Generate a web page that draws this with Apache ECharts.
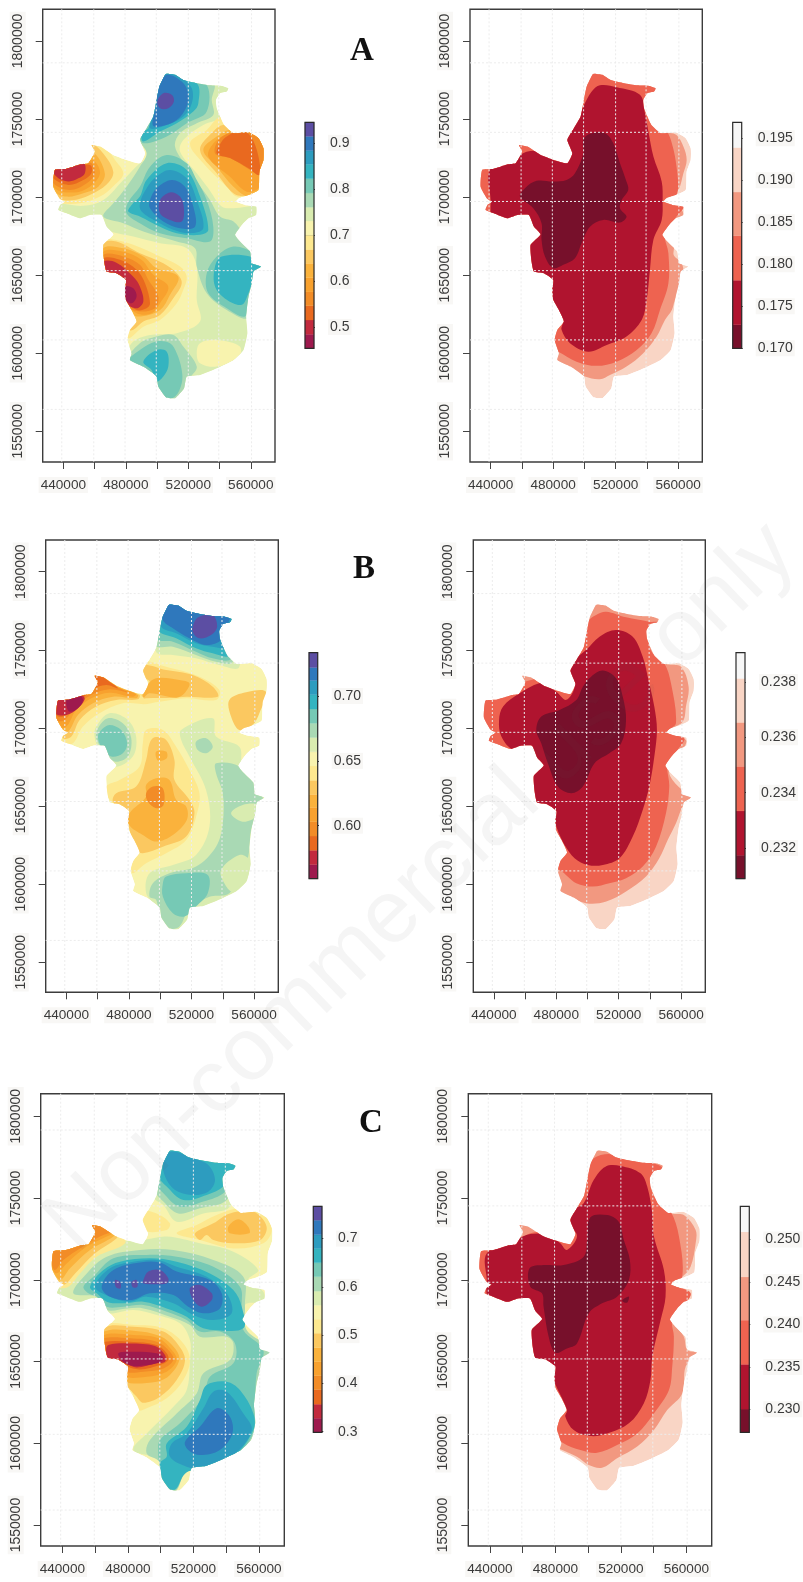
<!DOCTYPE html>
<html><head><meta charset="utf-8">
<style>html,body{margin:0;padding:0;background:#fff}#c{width:803px;height:1582px}</style>
<script src="https://cdn.jsdelivr.net/npm/echarts@6/dist/echarts.min.js"></script>
</head><body><div id="c"></div>
<script>
// ---- tick labels and reference lines (metres)
const xTicks=[440000,460000,480000,500000,520000,540000,560000];
const xLabels=[440000,480000,520000,560000];
const yTicks=[1550000,1600000,1650000,1700000,1750000,1800000];
const gridXkm=[439,459.5,479.5,499.5,520,539.5,560.5];
const gridYkmAB=[1786,1741.5,1697.2,1652.9,1608.5,1564];
const gridYkmC=[1791.6,1745.2,1698.5,1651.6,1605.5,1559.2];

// ---- colour scales: breaks & ticks
const spectral=['#9e1a4e','#c22a3e','#e9691f','#f28c27','#f8a12e','#fab23c','#fbc860','#fde88f','#f8f3ae','#d9ecb0','#a9d9b4','#76c9b5','#34b4c0','#2d9cbf','#2f78bc','#5c4ea3'];
const reds=['#77102b','#b0142f','#ee6350','#f29880','#f9d5c5','#f7f7f7'];
const breaksAL=[.4535,.484,.515,.546,.576,.607,.638,.668,.699,.730,.760,.791,.822,.853,.883,.914,.9445];
const breaksBL=[.5591,.570,.581,.592,.603,.614,.624,.635,.646,.657,.668,.679,.690,.701,.712,.722,.7334];
const breaksCL=[.2988,.328,.357,.387,.416,.445,.474,.504,.533,.562,.591,.621,.650,.679,.708,.738,.7668];
const breaksAR=[.170,.1728,.1781,.1834,.1886,.1939,.1969];
const breaksBR=[.23089,.23174,.23334,.23495,.23654,.23813,.23906];
const breaksCR=[.2273,.230,.2353,.2405,.2456,.2509,.2539];
const barTicksAL=[.5,.6,.7,.8,.9], barTicksBL=[.6,.65,.7], barTicksCL=[.3,.4,.5,.6,.7];
const barTicksAR=[.17,.175,.18,.185,.19,.195], barTicksBR=[.232,.234,.236,.238], barTicksCR=[.23,.235,.24,.245,.25];

// ---- region outline, km (x,y,x,y,...)
const outline=[506,1779,511.5,1778.3,516.8,1775,525.4,1773,533.9,1771.6,541.4,1771.2,545.6,1769.7,544.6,1767.6,540.3,1766.5,537.7,1762.2,538.2,1756.9,540.3,1751.6,542.9,1746.2,548.9,1740.9,558.5,1741.5,564.9,1737.7,568.1,1731.3,568.1,1723.8,565.5,1716.3,564.9,1704.6,558.5,1701.4,553.1,1699.7,550.6,1697.1,556.3,1695,563.4,1693.9,563.4,1688.6,558.5,1686.5,554.2,1682.2,549.9,1675.8,553.1,1671.5,559.5,1665.1,560.6,1657.6,566.6,1655.5,561.7,1652.3,560.6,1644.8,558.5,1636.3,557,1623.5,557.8,1612.8,555.3,1602.1,548.9,1595.7,538.2,1590.4,527.5,1586.1,519,1585,517.3,1577.6,511.5,1571.2,505.7,1571.8,500.8,1578.6,499.7,1585,491.2,1591.4,482.7,1595.7,483.7,1600,481,1608.5,482.7,1614.9,486.9,1620.3,483.7,1627.7,480.1,1634.2,479.5,1640.6,480.1,1646.9,474.1,1651.2,467.7,1652.3,466.2,1658.7,465.6,1669.4,472,1676,467.7,1681.1,464.5,1688.6,457,1688.6,450.6,1686.5,442.1,1689.7,436.8,1691.8,438,1695,441,1697,437.8,1699,433.6,1706.7,434.6,1717.4,441,1718,446.4,1719.5,451,1721,456,1721.7,460.2,1729.2,458.1,1733.4,463.5,1732.4,472,1727,480.5,1723.8,489.1,1721.7,492.3,1728.1,489.1,1736.6,493.3,1744.1,497.6,1751.6,499.7,1762.2,501.5,1770.8,505.1,1778.3];

// ---- filled contour bands: [band index, km outline]
const contoursAL=[
[9,[499.7,1785.7,553,1775,539.2,1762.2,541.4,1751.6,529.6,1746.2,516.8,1736.6,514.7,1729.2,525.4,1715.3,532.8,1705.7,541.4,1694,548.9,1692.9,568,1694,566,1685.4,553.1,1672.6,570.2,1655.5,566,1634.2,559.5,1612.8,561.7,1589.3,527.5,1580.8,515.8,1568,499.7,1570,480.5,1593.6,483.7,1606.4,495.5,1611.7,512.6,1612.8,527.5,1620.3,525.4,1634.2,525.4,1655.5,519,1667.2,501.9,1670.4,484.8,1674.7,467.7,1679,463.5,1685.4,461.3,1684.3,435.7,1685.4,434.6,1695,452.8,1694.4,465.6,1698.2,478.4,1711,489,1721.7,495.5,1726,489,1736.6,489,1745.2]],
[8,[527.5,1606.4,538.2,1608.5,553,1604.3,552,1596.8,538.2,1591.4,527.5,1593.6,525.4,1600]],
[10,[497.6,1783.6,536,1772.9,535,1762.2,536,1752.6,525.4,1747.3,514.7,1740.9,511.5,1732.4,519,1719.5,525.4,1710,533.9,1698.2,540.3,1687.5,548.9,1684.3,555.3,1676.8,568,1662,563.8,1638.4,558.5,1622.4,544.6,1627.7,531.8,1638.4,525.4,1655.5,524.3,1667.2,512.6,1671.5,491.2,1678,478.4,1683.3,465.6,1687.5,472,1696,480.5,1706.7,489,1719.5,493.3,1728,489,1736.6,491.2,1745.2]],
[11,[501.9,1780.4,530.7,1772.9,531.8,1754.8,519,1747.3,506.2,1738.8,491.2,1734.5,489,1740.9,493.3,1744,496.5,1753.7,499.7,1772.9]],
[11,[506.2,1727,519,1721.7,525.4,1711,531.8,1698.2,536,1681,533.9,1671.5,519,1673.6,501.9,1676.8,489,1683.3,480.5,1689.7,481.6,1697,489,1706.7,495.5,1719.5]],
[11,[538.2,1661.9,548.9,1668.3,561.7,1664,565.9,1655.5,561.7,1642.7,558.5,1634.2,556.3,1623.5,544.6,1628.8,532.8,1638.4,531.8,1651.2]],
[12,[541.4,1661.9,559.5,1661.9,568,1655.5,561.7,1647,558.5,1638.4,554.2,1631,544.6,1634.2,537.1,1642.7,537.1,1655.5]],
[12,[504,1780.4,525.4,1772.9,526.4,1760,523.2,1754.8,512.6,1747.3,501.9,1742,491.2,1735.6,490.1,1740.9,494.4,1744.1,497.6,1753.7,499.7,1772.9]],
[12,[506.2,1721.7,519,1717.4,527.5,1700.3,532.8,1679,527.5,1675.8,512.6,1676.8,501.9,1681,489,1687.5,481.6,1690.7,483.7,1695,489,1700.3,493.3,1711]],
[13,[504,1780.4,514.7,1777.2,522.2,1769.7,522.2,1760,516.8,1751.6,506.2,1746.2,495.5,1744.1,497.6,1753.7,499.7,1772.9]],
[13,[508.3,1717.4,519,1712,525.4,1698.2,529.6,1680,521.1,1676.8,510.4,1679,499.7,1684.3,490.1,1690.7,489,1696,493.3,1705.7,499.7,1713.2]],
[14,[506.2,1778.3,515.8,1774,520,1766.5,519,1758,512.6,1749.4,501.9,1745.2,497.2,1746.2,499.3,1758,500.8,1769.7]],
[14,[509.4,1711,517.9,1706.7,523.2,1693.9,524.3,1681,514.7,1680,504,1684.3,495.5,1692.9,495.5,1698.2,499.7,1705.7]],
[15,[504,1766.5,509.4,1765.5,510.8,1761.2,507.2,1756.9,501.9,1756.9,500.2,1761.2]],
[15,[508.3,1703,514.7,1700.3,517.2,1692.9,515.8,1684.3,508.3,1685.4,501.9,1689.7,501.9,1698.2]],
[10,[510.4,1611.7,516.8,1604.3,525.4,1591.4,521.1,1584,517.9,1574.4,510.4,1569,504,1570,498.7,1578.6,498.7,1585,491.2,1590.4,480.5,1594.6,489,1606.4,499.7,1610.7]],
[11,[508.3,1606.4,512.6,1600,515.8,1589.3,515.8,1580.8,511.5,1572.2,505,1571,499.7,1580.8,497.6,1587.2,481.6,1594.6,489,1602.1,499.7,1607.5]],
[12,[499.7,1602.1,506.2,1601,507.2,1591.4,504,1585,499.7,1581.8,496.5,1589.3,491.2,1594.6]],
// north-west
[7,[457,1737,468,1730,473,1724,478.4,1715,472,1707,463.5,1700.3,450.6,1696,437.8,1696,431.4,1698,429,1719.5]],
[6,[458,1734,465.6,1728,472,1716,467.7,1708,457,1701.4,445.3,1698,434.6,1700,431.4,1715,446.4,1721.7,456,1726]],
[5,[460,1728,466.6,1715,462.4,1706.7,452.8,1702.5,442,1700.3,433.6,1704.6,431.4,1717.4,455,1723.8]],
[4,[459,1723.8,463.5,1715.3,457,1706.7,446.4,1702.9,434.6,1705.7,431.4,1717.4,452.8,1721.7]],
[3,[458,1721.7,460.2,1715.3,455,1708.9,444.2,1704.6,433.6,1708.9,431.4,1717.4,452.8,1720.6]],
[2,[457,1720.6,458,1715.3,452.8,1711,443.2,1707.8,433.6,1712,431.4,1718.5]],
[1,[452.8,1722,453.8,1715.3,449.6,1712,443.2,1710,435.7,1713,431.4,1722]],
// south-west
[7,[464.5,1672.6,473,1672.6,484.8,1669.4,501.9,1662,514.7,1655.5,519,1649,516.8,1640.6,512.6,1632,501.9,1621.3,491.2,1617,481.6,1609.6,479.5,1617,478.4,1644.8,463.5,1649]],
[6,[465.6,1670.4,474,1671.5,489,1664,504,1657.6,512.6,1651.2,515.8,1644.8,510.4,1635.2,501.9,1624.5,491.2,1620.3,484.8,1615,481.6,1615,483.7,1620.3,478.4,1634.2,477.3,1647,463.5,1651.2]],
[5,[465.6,1667.2,478.4,1667.2,491.2,1662,499.7,1654.4,513.6,1649,508.3,1637.4,501.9,1627.7,488,1623.5,481.6,1627.7,476.3,1647,463.5,1651.2]],
[4,[465.6,1665,478.4,1665,490,1659.8,497.6,1650.2,507.2,1642.7,501.9,1632,496.5,1625.6,486.9,1625.6,478.4,1634.2,474,1649,463.5,1652.3]],
[3,[465.6,1663,478.4,1662,489,1656.6,494.4,1647,500.8,1636.3,498.7,1628.8,489,1626.7,481.6,1629.9,476.3,1649,463.5,1652.3]],
[2,[465.6,1660.8,476.3,1659.8,486.9,1653.4,492.3,1644.8,495.5,1632,493.3,1628.8,486.9,1627.7,479.5,1634.2,474,1649,463.5,1652.3]],
[1,[465.6,1658.7,474,1658,484.8,1649,489,1642.7,491.2,1633,486.9,1628.8,479.5,1633,476.3,1647,463.5,1652.3]],
[0,[479.5,1642.7,484.8,1641.6,486.9,1636.3,483.7,1632,478.8,1635.2]],
// east
[7,[541.4,1751.6,570.2,1745.2,570.2,1698.2,551,1700.3,544.6,1706.7,529.6,1721.7,521.1,1734.5,531.8,1743]],
[6,[542.4,1746.2,570.2,1743,570.2,1700.3,557.4,1700.3,548.9,1702.5,538.2,1715.3,527.5,1730.2,536,1742]],
[5,[546.7,1743,570.2,1740.9,568,1702.5,558.5,1700.3,548.9,1706.7,538.2,1719.5,529.6,1730.2,538.2,1738.8]],
[4,[548.9,1740.9,570.2,1738.8,567,1715.3,566,1706.7,557.4,1703.5,546.7,1713,532.8,1726,538.2,1736.6]],
[3,[552,1742,570.2,1738.8,568,1719.5,565.5,1714.2,559.5,1717.4,546.7,1725,537.1,1728,540.3,1737.7]],
[2,[544.6,1738.8,553,1742.6,560,1738.8,564.9,1726,565.5,1714.2,558.5,1718.5,546.7,1725,538.2,1728,541.4,1735.6]]
];
const contoursAR=[
[3,[480,1794,548.4,1794,551.6,1743,559,1739.8,563.4,1732.4,565.5,1723.8,563.4,1715.3,560.2,1704.6,553.8,1698.2,563.4,1689.7,557,1664,562.3,1657.6,563.4,1651.2,561.2,1640.6,558,1634.2,556,1627.7,551.6,1621.3,546.3,1610.7,537.7,1600,527,1591.4,516.4,1586,510,1583.3,500.4,1585,488.6,1591.4,478,1594.6,469.4,1612.8,459,1655.5,426.7,1676.8,426.7,1719.5]],
[2,[480,1794,544.2,1794,548.4,1743,552.7,1742,556,1734.5,559,1719.5,559.5,1702.5,553.8,1698.2,563.4,1693.9,559,1687.5,551.6,1676.8,553.8,1664,553.8,1644.8,548.4,1627.7,543,1612.8,533.5,1602,520.7,1594.6,507.9,1591.9,495,1594.6,483.3,1601,475.8,1604.3,469.4,1634.2,458.8,1655.5,426.7,1676.8,426.7,1719.5]],
[1,[510,1771.6,520.7,1770.4,535.6,1765.5,538.8,1753.7,541,1742,544.2,1726,549.5,1710,550.1,1697.1,549.5,1685.4,544.2,1672.6,542,1653.4,539.9,1634.2,536.7,1621.3,527,1610.7,514.3,1605.3,502.5,1601,490.8,1606.4,485.4,1615,486,1620.3,475.8,1634.2,475.8,1645.9,465.2,1651.2,462,1670.4,468.4,1676.8,460.9,1681,452.3,1683.3,440.6,1685.4,440,1689.7,440,1698.2,439.5,1717.4,454.5,1723.8,463,1729,472.6,1729,480.1,1723.8,486.5,1723.8,488.6,1736.6,490.8,1744.1,496,1751.6,499.3,1758,504.7,1767.6]],
[0,[503.6,1740.5,513.2,1740.9,518.5,1734.5,522.8,1721.7,526.6,1711,528.1,1704.6,523.9,1698.2,522.8,1692.9,527,1687.5,522.8,1683.7,512.1,1685.4,503.6,1681,498.2,1670.4,494,1660.8,486.5,1656.6,480.1,1654.4,474.8,1661.9,472.6,1672.6,472.6,1683.3,467.3,1692.9,458.8,1700.3,462,1705.7,469.4,1710.4,480.1,1710,488.6,1711,494,1715.3,499.3,1728,499.3,1736.6]]
];
const contoursBL=[
[9,[491,1784,550.6,1784,550.6,1739.2,537.8,1740.3,522.9,1744.6,508.1,1746.7,497.4,1748.8]],
[10,[493.2,1784,550.6,1784,546.4,1742.4,535.7,1742.4,522.9,1746.7,508.1,1752,496.4,1753.1]],
[11,[493.2,1784,550.6,1784,545.3,1744.6,533.6,1744.6,522.9,1748.8,508.1,1755.2,497.4,1757.4]],
[12,[493.2,1784,550.6,1784,544.2,1746.7,533.6,1747.8,522.9,1751,510.2,1757.4,498.5,1762.7]],
[13,[493.2,1784,550.6,1784,543.2,1752,533.6,1752,522.9,1754.2,510.2,1760.6,500.6,1764.8]],
[14,[499.5,1784,550.6,1784,544.2,1769.1,538.9,1756.3,529.3,1753.1,518.7,1757.4,508.1,1763.8,501.7,1769.1]],
[15,[525,1771.2,533.6,1772.3,536.4,1764.8,532.5,1759.5,525,1757.4,520.8,1761.6,521.9,1768]],
[7,[488.9,1742.4,503.8,1739.2,525.1,1732.8,537.8,1724.3,535.7,1717.9,516.6,1719,499.5,1716.8,486.8,1715.8,486.8,1724.3,492.1,1729.6,487.8,1732.8]],
[6,[488.9,1740.3,503.8,1737.1,520.8,1733.9,533.6,1726.4,536.8,1720,516.6,1720,508.1,1719.4,491,1719,486.8,1718,493.2,1729.6,488.9,1732.8]],
[5,[491,1726.4,497.4,1731.8,512.3,1730.7,518.7,1728.6,515.5,1722.2,510.2,1719.4,493.2,1722.2,488.9,1719]],
[6,[544.2,1717.9,554.9,1722.8,567.6,1723.2,563.4,1709.4,559.1,1702,550.6,1698.7,545.3,1707.3]],
[7,[458,1737.1,474,1726.4,488.9,1720,488.9,1715.8,476.1,1715.8,461.2,1709.4,450.6,1700.9,444.2,1690.2,436.8,1690.2,432.5,1707.3,431.4,1720]],
[6,[458,1735,474,1726.4,486.8,1721.1,485.7,1718.3,471.9,1717.9,459.1,1713.7,448.5,1705.1,443.2,1694.5,437.8,1693.4,432.5,1705.1,431.4,1720]],
[5,[458,1734.6,472.9,1726.4,485.7,1721.1,484.6,1719,469.8,1720,457,1715.8,447.4,1708.3,441,1697.6,435.7,1698.7,431.4,1709.4,431.4,1720]],
[4,[458,1734.3,471.9,1726.4,484.6,1721.8,482.5,1720,467.6,1722.6,455.9,1719,446.3,1711.5,440,1700.9,434.6,1700.9,431.4,1713.7,431.4,1720]],
[3,[458,1734.3,470.8,1726.9,479.3,1722.8,467.6,1724.7,455.9,1721.1,445.9,1713.7,438.9,1705.1,433.6,1705.1,431.4,1715.8]],
[2,[458,1734.3,470.8,1727.5,472.9,1725.4,465.5,1727.5,455.9,1724.3,445.3,1712.6,437.8,1707.3,433.6,1708.3,431.4,1717.9,452.7,1722.2]],
[1,[434.6,1719,446.3,1722.2,451.7,1719,447.4,1712.6,440,1708.3,432.5,1709.4,431.4,1715.8]],
[0,[441,1720,447.4,1722.2,450.6,1717.9,447.4,1712.6,442.1,1710.4,440,1714.7]],
[9,[467.6,1709.4,479.3,1705.1,484.6,1694.5,482.5,1681.7,470.8,1675.3,461.2,1686,458,1694.5,459.1,1700.9]],
[10,[466.6,1706.2,476.1,1703,481.5,1693.4,479.3,1681.7,470.8,1678.5,463.4,1686,459.1,1693.4,460.2,1699.8]],
[11,[467.6,1701.9,475.1,1698.7,478.9,1690.2,476.1,1683.8,468.7,1681.7,462.3,1688,460.2,1694.5,462.3,1698.7]],
[7,[491,1698.7,501.7,1698.7,510.2,1688,518.7,1673.1,525.1,1658.2,523,1643.3,516.6,1628.3,503.8,1619.8,491,1613.4,482.5,1607,481.5,1611.3,484.6,1619.8,479.3,1639,478.3,1645.4,467.6,1654,465.5,1662.5,474,1666.7,486.8,1675.3,488.9,1690.2]],
[6,[496.4,1694,503.8,1692.3,509.1,1679.5,509.1,1666.7,518.7,1654,521.9,1645.4,516.6,1630.5,501.7,1624,488.9,1619.8,484.6,1622,480.4,1634.7,478.3,1643.3,469.8,1652.9,471.9,1658.2,484.6,1662.5,491,1679.5,493.2,1690.2]],
[5,[497.4,1684.9,503.8,1684.9,504.2,1680.6,498.5,1679.1]],
[5,[497.4,1667.8,505.9,1666.7,510.2,1654,516.6,1649.7,517,1641.1,508.1,1631.5,497.4,1627.3,488.9,1631.5,480,1638,480.4,1645.4,491,1656,491,1663.5]],
[3,[495.3,1662.5,501.7,1661.4,502.1,1650.7,497.4,1648.6,492.1,1652.9,491,1658.2]],
[9,[513.4,1698.7,533.6,1706.2,535.7,1694.5,550.6,1688,552.7,1675.3,567.6,1658.2,561.3,1634.7,559.1,1613.4,550.6,1592,520.8,1579.3,510.2,1570.7,501.7,1572.9,497.4,1585.7,491,1594.2,493.2,1607,508.1,1612.3,522.9,1618.7,531.5,1636.9,529.3,1660.3,518.7,1681.7,513.4,1692.3]],
[10,[535.7,1677.4,550.6,1675.3,565.5,1656,558.1,1634.7,557,1622,554.9,1613.4,544.2,1594.2,531.5,1592,518.7,1584.6,512.3,1572.9,505.9,1571.8,499.5,1579.3,497.4,1590,493.2,1592,495.3,1600.6,505.9,1607,522.9,1611.3,535.7,1624,540,1639,540,1658.2,535.7,1671]],
[9,[545.3,1645.4,552.7,1650.7,562.3,1650.7,561.3,1643.3,552.7,1640]],
[9,[538.9,1609.1,550.6,1618.7,557,1615.5,555.9,1604.9,546.4,1595.3,541,1600.6]],
[11,[503.8,1604.9,516.6,1607,530.4,1605.9,530.4,1594.2,522.9,1585.7,515.5,1579.3,508.1,1581.4,501.7,1592,501.7,1600.6]],
[10,[522.9,1691.2,529.3,1693.4,533.6,1688,529.3,1683.8,524,1685.9]]
];
const contoursBR=[
[3,[494.9,1788.3,548.2,1788.3,549.2,1742.4,559.9,1739.2,564.8,1726.4,563.1,1713.7,561,1704,551.4,1697.6,563.1,1692.3,561,1686,552.4,1673.1,554.5,1666.7,563.1,1658.2,566.3,1656,561,1649.7,556.7,1639,551.4,1628.3,546,1616.6,537.5,1604.9,524.7,1595.3,512,1588.9,499.2,1587.8,484.2,1594.2,477.8,1597.4,467.2,1634.7,456.5,1656,424.6,1677.4,424.6,1720]],
[2,[500.2,1768,505.5,1772.3,512,1774.4,524.7,1770.8,539.6,1768,546,1767,539.6,1754.2,541.8,1747.8,549.2,1741.4,553.5,1728.6,556.7,1703,551.4,1697.6,562,1693.4,557.8,1686,551.4,1677.4,552.4,1662.5,550.3,1645.4,543.9,1624,535.4,1611.3,524.7,1603.8,514,1600.6,503.4,1598.5,492.8,1600.6,482.1,1609.1,473.6,1611.3,467.2,1634.7,456.5,1656,431,1686,431,1720,456.5,1728.6,467.2,1731.8,473.6,1735,492.8,1745.6,494.9,1754.2]],
[1,[499.2,1750,507.7,1758.4,518.3,1762.7,529,1758.4,535.4,1745.6,538.6,1732.8,542.8,1713.7,544.5,1698.7,542.8,1681.6,539.6,1662.5,535.4,1647.5,529,1630.5,520.5,1616.6,509.8,1612.3,500.2,1612.3,491.7,1616.6,485.3,1625.1,482.1,1631.5,476.8,1643.3,466.1,1650.7,464,1670,468.2,1677.4,460.8,1688,452.3,1686,444.8,1694.5,443.3,1705,445.9,1713.7,456.5,1722.2,471.4,1729,480,1723.2,486.4,1718,491.7,1726.4,488.5,1735,490.6,1742.4]],
[0,[502.3,1732.8,509.8,1736.7,518.3,1731.8,522.6,1720,524.7,1705,521.5,1690,514,1683.8,504.5,1677.4,497,1662.5,489.6,1658.2,481,1662.5,474.6,1677.4,470.4,1690,467.2,1698.7,470.4,1707.3,482.1,1711.5,492.8,1717.9,497,1726.4]]
];
const contoursCL=[
[9,[499.6,1781.4,550.5,1771.2,542.3,1744.7,526.1,1740.6,509.8,1735.5,501.7,1745.7,495.6,1750.8]],
[10,[499.6,1781.4,550.5,1771.2,540.3,1748.8,524,1743.7,510.8,1740.6,501.7,1747.8,496.6,1754.9]],
[11,[501.7,1781.4,550.5,1771.2,539.3,1753.9,526.1,1747.8,511.8,1744.7,501.7,1752.9,497.6,1759]],
[12,[501.7,1781.4,548.4,1771.2,538.3,1757,528.1,1751.9,513.9,1748.8,503.7,1757,498.6,1764.1]],
[13,[506.8,1778.4,520,1774.3,529.1,1770.2,533.2,1761,529.1,1753.9,519,1751.9,508.8,1754.9,502.7,1763.1,501.7,1773.3]],
[9,[436.6,1694.8,442.7,1695.8,450.8,1707,463,1718.2,477.3,1723.3,489.5,1724.3,503.7,1726.4,524,1722.3,544.4,1717.2,559.6,1706,553.5,1699.9,562.7,1692.7,562.7,1686.6,551.5,1684.6,551.5,1669.3,564.7,1659,560.7,1642.8,558.6,1618.3,557.6,1606,544.4,1591.8,524,1584.7,514.9,1581.6,508.8,1570.4,501.7,1575.5,498.6,1589.8,483.4,1595.9,491.5,1606,507.8,1622.4,515.9,1632.6,517.9,1650.9,517.9,1663.2,511.8,1673.4,497.6,1678.5,483.4,1681.5,467.1,1679.5,463,1685.6,452.9,1685.6,436.6,1689.7]],
[10,[446.7,1691.7,454.9,1703.9,467.1,1714.1,487.4,1718.2,507.8,1718.2,532.2,1712.1,550.5,1701.9,551.5,1683.5,552.5,1669.3,566.8,1657,560.7,1638.7,558.6,1618.3,557.6,1606,544.4,1590.8,524,1584.7,514.9,1581.6,508.8,1570.4,501.7,1574.5,499.2,1588.7,491.5,1593.8,493.5,1602,509.8,1618.3,522,1630.5,526.1,1642.8,542.3,1650.9,544.4,1661.1,540.3,1665.2,524,1665.2,517.9,1672.3,505.7,1677.4,489.5,1682.5,479.3,1682.5,467.1,1681.5,461,1689.7]],
[11,[452.9,1695.8,459,1701.9,471.2,1713.1,491.5,1715.2,509.8,1714.1,532.2,1708,548.4,1695.8,549.5,1683.5,550.5,1669.3,562.7,1657,558.6,1642.8,557.6,1618.3,556.6,1606,544.4,1590.8,524,1584.7,514.9,1581.6,508.8,1571.4,501.7,1574.5,499.2,1587.7,498.6,1593.8,499.6,1602,511.8,1612.2,526.1,1628.5,530.1,1640.7,544.4,1648.9,545.4,1661.1,536.2,1668.3,524,1668.3,515.9,1675.4,503.7,1680.5,489.5,1684.6,477.3,1683.5,467.1,1683.5,461,1689.7,455.9,1691.7]],
[12,[456.9,1695.8,465.1,1706,475.2,1711,493.5,1713.1,509.8,1711,530.1,1703.9,544.4,1693.7,549.5,1683.5,550.5,1670.3,532.2,1669.3,524,1671.3,515.9,1677.4,503.7,1682.5,489.5,1686.6,477.3,1685.6,467.1,1686.6,461,1691.7]],
[12,[503.7,1599.9,515.9,1610.1,524,1626.5,528.1,1635.6,540.3,1637.7,548.4,1632.6,556.6,1618.3,556.6,1608.1,544.4,1591.8,524,1584.7,514.9,1581.6,508.8,1571.8,502.7,1574.5,499.6,1587.7,503.7,1591.8]],
[13,[460,1695.8,469.1,1707,483.4,1711,497.6,1712.1,509.8,1708,528.1,1701.9,540.3,1691.7,543.4,1679.5,532.2,1675.4,520,1678.5,507.8,1685.6,491.5,1689.7,481.3,1686.6,469.1,1689.7]],
[13,[506.8,1599.9,515.9,1606,526.1,1621.4,532.2,1631.6,540.3,1631.6,550.5,1618.3,555.6,1608.1,544.4,1592.8,524,1584.7,515.9,1585.7,505.7,1591.8]],
[14,[464,1695.8,471.2,1706,487.4,1710.5,499.6,1710.5,509.8,1705,530.1,1699.9,537.3,1691.7,536.2,1682.5,526.1,1679.5,516.9,1683.5,507.8,1690.7,493.5,1691.7,482.3,1687.6,469.1,1689.7]],
[14,[514.9,1601,524,1610.1,534.2,1621.4,542.3,1616.3,543.8,1606,536.2,1595.9,524,1592.8,516.9,1595.9]],
[15,[489.5,1699.9,492.5,1705,499.6,1706,504.7,1700.9,503.7,1697.8,489.5,1697.8]],
[15,[517.9,1694.8,524,1696.8,531.2,1691.7,531.2,1687.6,525.1,1683.5,520,1687.6]],
[15,[472.2,1699.9,475.2,1698.8,475.6,1694.8,472.8,1695.4]],
[15,[482.3,1698.8,485.4,1699.9,485.8,1695.8,483,1695.4]],
[7,[488.4,1741.7,497.6,1740.6,505.7,1734.5,503.7,1730.4,489.5,1730.4]],
[7,[509.8,1728.4,522,1733.5,534.2,1739.6,548.4,1743.7,562.7,1740.6,567.8,1730.4,562.7,1722.3,544.4,1719.2,524,1724.3]],
[6,[521,1728.4,532.2,1734.5,542.3,1740.6,556.6,1741.7,564.7,1732.5,560.7,1724.3,544.4,1722.3,532.2,1724.3,528.1,1727.4,524,1724.3]],
[5,[541.3,1732.5,547.4,1737,553.5,1732.5,554.1,1728.4,542.3,1728.4]],
[7,[460,1734.5,473.2,1729.4,478.3,1722.3,461,1714.1,450.8,1703.9,443.7,1695.8,436.6,1695.8,433.5,1708,434.5,1718.2]],
[6,[460,1734.5,473.2,1728.4,473.2,1725.4,460,1716.2,447.8,1703.9,440.6,1696.8,435.6,1701.9,433.5,1708,434.5,1718.2]],
[5,[460,1734,472.2,1729.4,471.2,1726.4,456.9,1718.2,444.7,1707,438.6,1699.9,433.5,1708,434.5,1718.2]],
[4,[460,1734,472.2,1730,467.1,1726.4,454.9,1720.3,442.7,1710,436.6,1704,433.5,1708,434.5,1718.2]],
[3,[460,1734,471.2,1730.4,463,1726.4,450.8,1719.2,440.6,1712.1,435.6,1706,433.5,1710,434.5,1718.2]],
[7,[466.1,1672.3,483.4,1672.3,501.7,1670.3,513.9,1661.1,517.9,1650.9,513.9,1638.7,503.7,1627.5,491.5,1621.4,486.4,1620.3,482.3,1632.6,478.9,1638.7,480.3,1645.8,471.2,1650.9,463,1659]],
[6,[466.1,1670.9,483.4,1671.3,501.7,1668.3,510.8,1660.1,514.9,1650.9,509.8,1638.7,499.6,1628.5,489.5,1624.8,485.4,1628.5,478.3,1637.7,480.3,1645.8,471.2,1650.9,463,1659]],
[5,[465.5,1668.3,483.4,1668.9,499.6,1665.6,508.8,1658,511.4,1650.9,505.7,1641.8,497.6,1637.7,478.3,1637.7,480.3,1645.8,471.2,1650.9,463,1659]],
[4,[465.5,1666.2,483.4,1666.2,498.6,1664.2,506.8,1657,509.8,1650.9,503.7,1643.8,491.5,1640.7,478.3,1640.7,480.3,1645.8,471.2,1650.9,463,1659]],
[3,[465.5,1664.2,481.3,1664.2,497.6,1662.1,505.7,1656,507.8,1650.9,501.7,1645.8,489.5,1643.8,478.3,1643.8,471.2,1650.9,463,1659]],
[2,[466.1,1662.1,481.3,1662.1,497.6,1660.1,503.7,1655,504.7,1650.9,499.6,1647.9,487.4,1645.2,479.3,1646.9,469.1,1650.9,463,1659]],
[1,[468.1,1660.1,481.3,1661.1,496.6,1659.5,502.7,1654,502.7,1649.9,497.6,1648.9,485.4,1646.4,478.3,1648.9,468.1,1651.9,466.7,1657]],
[0,[474.2,1655,483.4,1656,497.6,1655,501.7,1651.9,497.6,1648.9,485.4,1647.2,478.3,1648.9]]
];
const contoursCR=[
[3,[479,1791.6,540.2,1791.6,549.4,1741.7,558.5,1739.6,565.7,1730.4,565.7,1722.3,562.6,1708,557.5,1701.9,551.4,1697.8,562.6,1691.7,552.4,1675.4,558.5,1665.2,560.6,1657,566.7,1655,559.6,1646.9,557.5,1630.5,548.3,1620.3,540.2,1608.1,530,1598,517.7,1590.8,508.5,1585,500.4,1586.7,493.2,1591.8,482,1596.9,474.9,1600,464.7,1638.7,454.4,1659,421.8,1679.5,421.8,1720.3]],
[2,[503.4,1774.3,512.6,1777,519.8,1774.3,545.3,1768.8,538.1,1759,544.3,1744.7,550.4,1741.7,555.5,1726.4,557.5,1701.9,551.4,1697.8,562.6,1691.7,557.5,1683.5,551.4,1675.4,552.4,1665.2,551.4,1646.9,549.4,1632.6,540.2,1618.3,530,1606,517.7,1598.9,505.5,1594.2,495.3,1595.9,485,1600,474.9,1610.2,464.7,1638.7,454.4,1659,427.9,1687.6,427.9,1720.3,456.5,1724.3,464.7,1728.4,474.9,1730.4,487.1,1736.6,493.2,1744.7,496.3,1752.9,500.4,1767.1]],
[1,[503.4,1761,510.6,1769.2,519.8,1769.6,532,1765.1,536.1,1757,539.2,1740.6,540.2,1726.4,546.3,1706,547.3,1689.7,544.3,1675.4,539.2,1653,538.1,1638.7,534,1624.4,524.9,1612.2,511.6,1606,501.4,1604.4,491.2,1608.1,486.1,1616.3,487.1,1620.3,479,1638.7,477.9,1646.9,467.7,1652,464.7,1671.3,469.8,1677.4,463.6,1683.5,460.6,1687.6,452.4,1686,439.1,1689.7,438.1,1699.9,438.1,1716.2,455.5,1724.3,464.7,1728,475.9,1727.4,483,1722.3,487.1,1718.2,493.2,1726.4,489.1,1734.5,491.2,1742.7,497.3,1746.8]],
[0,[501.4,1738.2,511.6,1739.6,518.7,1735.5,521.8,1724.3,525.5,1712.1,524.9,1699.9,517.7,1689.7,508.5,1685.6,500.4,1679.5,493.2,1661.1,487.1,1658,480,1655.4,475.9,1665.2,472.8,1683.5,471.8,1691.7,464.7,1695.8,464.2,1707,472.8,1709,485,1709,497.3,1714.1,499.4,1724.3]],
[0,[520.8,1687.2,524.9,1689.7,523.8,1686]]
];

const KM=1000;
const pairs=f=>{const o=[];for(let i=0;i<f.length;i+=2)o.push([f[i]*KM,f[i+1]*KM]);return o;};
const outlinePts=pairs(outline);

const panels=[
 {box:[42.7,9.3,232.3,452.7],y:[1530.3,1820.3],c:contoursAL,base:8,pal:spectral,gy:gridYkmAB,bar:[305,122.3,9,226],br:breaksAL,bt:barTicksAL,dg:1},
 {box:[470,9.3,232.3,452.7],y:[1530.3,1820.3],c:contoursAR,base:4,pal:reds,gy:gridYkmAB,bar:[732.7,122.3,9,226],br:breaksAR,bt:barTicksAR,dg:3},
 {box:[45.7,540,232.6,452.3],y:[1530.8,1820.3],c:contoursBL,base:8,pal:spectral,gy:gridYkmAB,bar:[309,652.7,8.7,226],br:breaksBL,bt:barTicksBL,dg:2},
 {box:[473.3,540,232,452.3],y:[1530.8,1820.3],c:contoursBR,base:4,pal:reds,gy:gridYkmAB,bar:[736,652.7,9,226],br:breaksBR,bt:barTicksBR,dg:3},
 {box:[40.7,1093.7,243.6,452.3],y:[1537.2,1813.8],c:contoursCL,base:8,pal:spectral,gy:gridYkmC,bar:[313.3,1206.3,8.7,226],br:breaksCL,bt:barTicksCL,dg:1},
 {box:[468.3,1093.7,243.4,452.3],y:[1537.2,1813.8],c:contoursCR,base:4,pal:reds,gy:gridYkmC,bar:[740.3,1206.3,9,226],br:breaksCR,bt:barTicksCR,dg:3}
];
const textCol='#3a3a3a', halo='#f8f7f5', FONT='"Liberation Sans"';
const grid=[],xAxis=[],yAxis=[],series=[];

panels.forEach(p=>{
  const gi=grid.length;
  grid.push({left:p.box[0],top:p.box[1],width:p.box[2],height:p.box[3],outerBoundsMode:'none',containLabel:false,show:true,borderColor:'#3c3c3c',borderWidth:1.4,backgroundColor:'transparent'});
  const lab={show:true,color:textCol,fontFamily:FONT,backgroundColor:halo,padding:[1,2],formatter:v=>String(Math.round(v))};
  xAxis.push({gridIndex:gi,type:'value',min:426800,max:575500,splitLine:{show:false},axisLine:{show:false},
    axisTick:{show:true,length:7,lineStyle:{color:'#444'},customValues:xTicks},
    axisLabel:{...lab,fontSize:13.6,margin:15,customValues:xLabels}});
  yAxis.push({gridIndex:gi,type:'value',min:p.y[0]*KM,max:p.y[1]*KM,splitLine:{show:false},axisLine:{show:false},
    axisTick:{show:true,length:7,lineStyle:{color:'#444'},customValues:yTicks},
    axisLabel:{...lab,fontSize:14,rotate:90,margin:17,customValues:yTicks}});
  const layers=[[p.base,outline]].concat(p.c);
  series.push({type:'custom',xAxisIndex:gi,yAxisIndex:gi,z:2,silent:true,clip:false,
    data:layers.map((l,i)=>[i,l[0]]),
    encode:{x:[],y:[]},
    renderItem:(params,api)=>{
      const l=layers[api.value(0)];
      const toPx=q=>api.coord(q);
      return {type:'polygon',
        shape:{points:pairs(l[1]).map(toPx),smooth:l[1]===outline?0.15:0.35},
        style:{fill:p.pal[l[0]],stroke:null},
        clipPath:{type:'polygon',shape:{points:outlinePts.map(toPx),smooth:0.15}}};
    }});
  // dotted reference lines
  const gridLine=(vals,dir)=>series.push({type:'custom',xAxisIndex:gi,yAxisIndex:gi,z:3,silent:true,
    data:vals.map(v=>[v*KM]),encode:{x:[],y:[]},
    renderItem:(params,api)=>{
      const cs=params.coordSys,v=api.value(0);
      const a=dir==='x'?api.coord([v,p.y[0]*KM]):api.coord([426800,v]);
      return {type:'line',
        shape:dir==='x'?{x1:a[0],y1:cs.y,x2:a[0],y2:cs.y+cs.height}:{x1:cs.x,y1:a[1],x2:cs.x+cs.width,y2:a[1]},
        style:{stroke:'#ececec',lineWidth:1,lineDash:[2,2]}};
    }});
  gridLine(gridXkm,'x'); gridLine(p.gy,'y');

  // colour bar
  const bi=grid.length;
  grid.push({left:p.bar[0],top:p.bar[1],width:p.bar[2],height:p.bar[3],outerBoundsMode:'none',containLabel:false});
  xAxis.push({gridIndex:bi,type:'value',min:0,max:1,show:false});
  yAxis.push({gridIndex:bi,type:'value',position:'right',min:p.br[0],max:p.br[p.br.length-1],splitLine:{show:false},axisLine:{show:false},
    axisTick:{show:true,length:10,lineStyle:{color:'#333'},customValues:p.bt},
    axisLabel:{show:true,color:textCol,fontFamily:FONT,fontSize:14,margin:14,backgroundColor:halo,padding:[1,2],customValues:p.bt,formatter:v=>v.toFixed(p.dg)}});
  const bands=p.pal.map((c,i)=>[p.br[i],p.br[i+1],i]);
  series.push({type:'custom',xAxisIndex:bi,yAxisIndex:bi,z:2,silent:true,data:bands,encode:{x:[],y:[]},
    renderItem:(params,api)=>{
      const lo=api.coord([0,api.value(0)]),hi=api.coord([1,api.value(1)]);
      return {type:'rect',shape:{x:lo[0],y:hi[1],width:hi[0]-lo[0],height:lo[1]-hi[1]},
        style:{fill:p.pal[api.value(2)],stroke:p.pal[api.value(2)],lineWidth:.3}};
    }});
  series.push({type:'custom',xAxisIndex:bi,yAxisIndex:bi,z:3,silent:true,data:[[0]],encode:{x:[],y:[]},
    renderItem:(params)=>{const c=params.coordSys;
      return {type:'rect',shape:{x:c.x,y:c.y,width:c.width,height:c.height},style:{fill:'none',stroke:'#2a2a2a',lineWidth:1.2}};}});
});

const letters=[['A',362,51],['B',364,569],['C',371,1123]];
const chart=echarts.init(document.getElementById('c'),null,{renderer:'canvas',width:803,height:1582});
chart.setOption({animation:false,backgroundColor:'#fff',grid,xAxis,yAxis,series,
  graphic:[
    ...letters.map(l=>({type:'text',x:l[1],y:l[2],z:50,style:{text:l[0],font:'bold 33px "Liberation Serif"',fill:'#111',textAlign:'center',textVerticalAlign:'middle'}})),
    {type:'text',x:421,y:888,rotation:Math.PI/180*44,z:60,silent:true,style:{text:'Non-commercial use only',font:'89px "Liberation Sans"',fill:'rgba(90,90,90,0.06)',textAlign:'center',textVerticalAlign:'middle'}}
  ]});
</script></body></html>
